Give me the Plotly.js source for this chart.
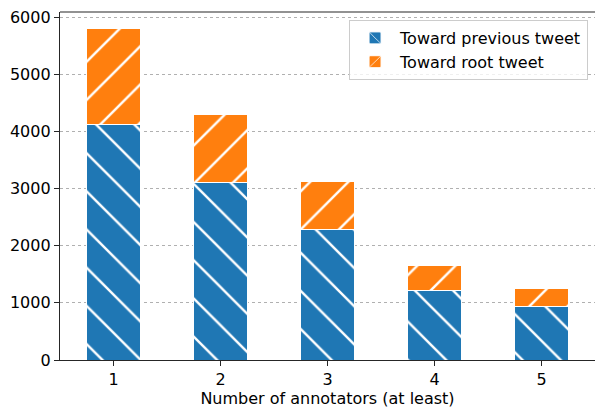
<!DOCTYPE html>
<html>
<head>
<meta charset="utf-8">
<script src="https://cdn.plot.ly/plotly-3.0.1.min.js"></script>
<style>html,body{margin:0;padding:0;background:#fff}#chart{width:595px;height:408px}</style>
</head>
<body>
<div id="chart"></div>
<script>
const categories = [1, 2, 3, 4, 5];
const towardPrevious = [4130, 3110, 2280, 1220, 930];
const towardRoot = [1670, 1180, 840, 440, 320];
const yTicks = [0, 1000, 2000, 3000, 4000, 5000, 6000];

const font = {family: 'DejaVu Sans, sans-serif', size: 16, color: '#000'};

const traces = [
  {
    type: 'bar', x: categories, y: towardPrevious, name: 'Toward previous tweet',
    width: 0.5,
    marker: {color: '#1f77b4', line: {color: '#ffffff', width: 1},
      pattern: {shape: '\\', fillmode: 'overlay', fgcolor: '#ffffff', fgopacity: 1, size: 27, solidity: 0.09}}
  },
  {
    type: 'bar', x: categories, y: towardRoot, name: 'Toward root tweet',
    width: 0.5,
    marker: {color: '#ff7f0e', line: {color: '#ffffff', width: 1},
      pattern: {shape: '/', fillmode: 'overlay', fgcolor: '#ffffff', fgopacity: 1, size: 27, solidity: 0.09}}
  }
];

const layout = {
  width: 595, height: 408,
  margin: {l: 60, r: 0, t: 12, b: 48},
  barmode: 'stack',
  paper_bgcolor: '#fff', plot_bgcolor: '#fff',
  font: font,
  showlegend: true,
  legend: {x: 0.987, xanchor: 'right', y: 0.977, yanchor: 'top',
    bgcolor: 'rgba(255,255,255,0.8)', bordercolor: '#cccccc', borderwidth: 1,
    font: font, traceorder: 'normal', tracegroupgap: 0, itemwidth: 40},
  xaxis: {
    range: [0.5, 5.5], tickvals: categories, ticktext: categories.map(String),
    showgrid: false, zeroline: false, showline: true, linecolor: '#262626', linewidth: 1.2,
    ticks: 'outside', ticklen: 5, tickcolor: '#262626', tickfont: font,
    title: {text: 'Number of annotators (at least)', font: font, standoff: 4}
  },
  yaxis: {
    range: [0, 6090], tickvals: yTicks, ticktext: yTicks.map(String),
    showgrid: true, gridcolor: '#b0b0b0', griddash: 'dot', gridwidth: 1,
    zeroline: false, showline: true, linecolor: '#262626', linewidth: 1.2,
    ticks: 'outside', ticklen: 5, tickcolor: '#262626', tickfont: font
  },
  shapes: [{type: 'line', xref: 'paper', yref: 'paper', x0: 0, x1: 1, y0: 1, y1: 1,
    line: {color: '#262626', width: 1.2}}]
};

Plotly.newPlot('chart', traces, layout, {displayModeBar: false, staticPlot: true});
</script>
</body>
</html>
